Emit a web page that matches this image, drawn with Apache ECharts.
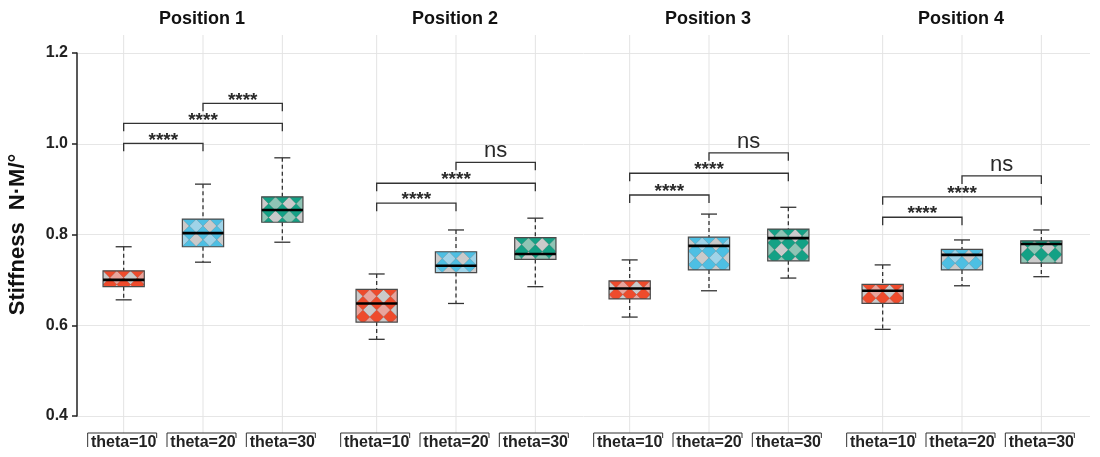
<!DOCTYPE html>
<html>
<head>
<meta charset="utf-8">
<title>Stiffness by position and theta</title>
<script src="https://cdn.jsdelivr.net/npm/echarts@6/dist/echarts.min.js"></script>
<style>
  html, body { margin: 0; padding: 0; background: #ffffff; }
  #chart { width: 1100px; height: 457px; }
</style>
</head>
<body>
<div id="chart"></div>
<script>
// ---- data ----
const positions = ['Position 1', 'Position 2', 'Position 3', 'Position 4'];
const thetas = ['theta=10', 'theta=20', 'theta=30'];
const yTicks = [0.4, 0.6, 0.8, 1.0, 1.2];

// each row: [lower whisker, Q1, median, Q3, upper whisker], one row per theta
const position1 = [
  [0.656, 0.685, 0.700, 0.720, 0.773],
  [0.739, 0.773, 0.803, 0.834, 0.911],
  [0.783, 0.827, 0.854, 0.883, 0.969]
];
const position2 = [
  [0.569, 0.607, 0.648, 0.679, 0.713],
  [0.648, 0.716, 0.731, 0.762, 0.810],
  [0.685, 0.745, 0.757, 0.793, 0.836]
];
const position3 = [
  [0.618, 0.658, 0.681, 0.698, 0.744],
  [0.676, 0.722, 0.775, 0.794, 0.845],
  [0.704, 0.742, 0.792, 0.812, 0.860]
];
const position4 = [
  [0.591, 0.648, 0.676, 0.690, 0.733],
  [0.687, 0.722, 0.755, 0.767, 0.788],
  [0.707, 0.737, 0.779, 0.786, 0.810]
];

// pairwise comparisons (theta index pairs) and the height of each bracket
const comparisons = [[0, 1], [0, 2], [1, 2]];
const bracketLevels1 = [1.001, 1.045, 1.089];
const bracketLevels2 = [0.869, 0.913, 0.959];
const bracketLevels3 = [0.887, 0.935, 0.980];
const bracketLevels4 = [0.838, 0.883, 0.929];
const significance1 = ['****', '****', '****'];
const significance2 = ['****', '****', 'ns'];
const significance3 = ['****', '****', 'ns'];
const significance4 = ['****', '****', 'ns'];

// ---- styling ----
const boxColors = [
  { dark: '#ee4b2c', light: '#e9a49c', gray: '#cacaca' },
  { dark: '#4dbfe3', light: '#9fd3e8', gray: '#cacaca' },
  { dark: '#14a185', light: '#8fc5b5', gray: '#cacaca' }
];
const FONT = '"Liberation Sans", Arial, sans-serif';
const panelCenters = [203, 456, 709, 962];
const panelWidth = 238;
const gridTop = 53;
const gridBottom = 41;

const allBoxes = [position1, position2, position3, position4];
const allLevels = [bracketLevels1, bracketLevels2, bracketLevels3, bracketLevels4];
const allSig = [significance1, significance2, significance3, significance4];

function diamond(cx, cy, w, h, fill) {
  return {
    type: 'polygon',
    shape: { points: [[cx, cy - h / 2], [cx + w / 2, cy], [cx, cy + h / 2], [cx - w / 2, cy]] },
    style: { fill: fill, stroke: 'rgba(90,90,90,0.35)', lineWidth: 0.5 }
  };
}

function renderBox(params, api) {
  const i = api.value(0);
  const lo = api.coord([i, api.value(1)]);
  const q1 = api.coord([i, api.value(2)]);
  const md = api.coord([i, api.value(3)]);
  const q3 = api.coord([i, api.value(4)]);
  const hi = api.coord([i, api.value(5)]);
  const band = api.size([1, 0])[0];
  const bw = band * 0.52;
  const cx = lo[0];
  const x0 = cx - bw / 2;
  const y0 = q3[1];
  const h = q1[1] - q3[1];
  const c = boxColors[i];
  const W = bw / 3, H = W;
  const cap = 8;

  const cells = [{ type: 'rect', shape: { x: x0, y: y0, width: bw, height: h }, style: { fill: c.light } }];
  const rows = Math.ceil(h / H) + 1;
  for (let j = 0; j <= rows; j++) {
    for (let k = 0; k <= 3; k++) {
      cells.push(diamond(x0 + k * W, y0 + H / 2 + j * H, W, H, (k + j) % 2 === 0 ? c.gray : c.light));
    }
    for (let k = 0; k < 3; k++) {
      cells.push(diamond(x0 + W / 2 + k * W, y0 + j * H, W, H, c.dark));
    }
  }

  const whisker = { stroke: '#333', lineWidth: 1.3, lineDash: [4, 3] };
  const solid = { stroke: '#333', lineWidth: 1.3 };
  return {
    type: 'group',
    children: [
      { type: 'line', shape: { x1: cx, y1: hi[1], x2: cx, y2: q3[1] }, style: whisker },
      { type: 'line', shape: { x1: cx, y1: q1[1], x2: cx, y2: lo[1] }, style: whisker },
      { type: 'line', shape: { x1: cx - cap, y1: hi[1], x2: cx + cap, y2: hi[1] }, style: solid },
      { type: 'line', shape: { x1: cx - cap, y1: lo[1], x2: cx + cap, y2: lo[1] }, style: solid },
      {
        type: 'group',
        children: cells,
        clipPath: { type: 'rect', shape: { x: x0, y: y0, width: bw, height: h } }
      },
      { type: 'rect', shape: { x: x0, y: y0, width: bw, height: h }, style: { fill: null, stroke: '#4a4a4a', lineWidth: 1.2 } },
      { type: 'line', shape: { x1: x0, y1: md[1], x2: x0 + bw, y2: md[1] }, style: { stroke: '#000', lineWidth: 2.6 } }
    ]
  };
}

function renderFrame(params, api) {
  const i = api.value(0);
  const top = api.coord([i, 1.2]);
  const bot = api.coord([i, 0.4]);
  const cx = top[0];
  const by = bot[1] + 17;
  return {
    type: 'group',
    children: [
      { type: 'line', shape: { x1: cx, y1: top[1] - 18, x2: cx, y2: by }, style: { stroke: '#e3e3e3', lineWidth: 1 } },
      {
        type: 'polyline',
        shape: { points: [[cx - 36, by + 14], [cx - 36, by], [cx + 33, by], [cx + 33, by + 5]] },
        style: { stroke: '#333', fill: null, lineWidth: 1 }
      }
    ]
  };
}

function makeBracketRenderer(labels) {
  return function (params, api) {
    const a = api.coord([api.value(0), api.value(2)]);
    const b = api.coord([api.value(1), api.value(2)]);
    const leg = 8;
    const text = labels[params.dataIndex];
    const isNs = text === 'ns';
    return {
      type: 'group',
      children: [
        {
          type: 'polyline',
          shape: { points: [[a[0], a[1] + leg], [a[0], a[1]], [b[0], b[1]], [b[0], b[1] + leg]] },
          style: { stroke: '#333', fill: null, lineWidth: 1.3 }
        },
        {
          type: 'text',
          style: {
            text: text,
            x: (a[0] + b[0]) / 2,
            y: isNs ? a[1] - 11 : a[1] - 3,
            align: 'center',
            verticalAlign: 'middle',
            fontFamily: FONT,
            fontSize: isNs ? 22 : 19,
            fontWeight: isNs ? 'normal' : 'bold',
            fill: '#2a2a2a'
          }
        }
      ]
    };
  };
}

// ---- option ----
const grids = [{ left: 77, right: 10, top: gridTop, bottom: gridBottom, containLabel: false, outerBoundsMode: 'none' }];
const xAxes = [{ type: 'value', gridIndex: 0, show: false, min: 0, max: 1 }];
const yAxes = [{
  type: 'value',
  gridIndex: 0,
  min: yTicks[0],
  max: yTicks[yTicks.length - 1],
  interval: 0.2,
  name: 'Stiffness  N·M/°',
  nameLocation: 'middle',
  nameGap: 48,
  nameTextStyle: { fontFamily: FONT, fontSize: 22, fontWeight: 'bold', color: '#111' },
  axisLine: { show: true, lineStyle: { color: '#222', width: 1.5 } },
  axisTick: { show: true, length: 5, lineStyle: { color: '#222', width: 1.5 } },
  axisLabel: {
    margin: 9,
    fontFamily: FONT,
    fontSize: 16,
    fontWeight: 'bold',
    color: '#222',
    formatter: v => v.toFixed(1)
  },
  splitLine: { show: true, lineStyle: { color: '#e6e6e6', width: 1 } }
}];
const titles = [];
const series = [];

positions.forEach((name, p) => {
  const g = p + 1;
  grids.push({
    left: panelCenters[p] - panelWidth / 2,
    width: panelWidth,
    top: gridTop,
    bottom: gridBottom,
    containLabel: false,
    outerBoundsMode: 'none'
  });
  xAxes.push({
    type: 'category',
    gridIndex: g,
    data: thetas,
    boundaryGap: true,
    axisLine: { show: false },
    axisTick: { show: false },
    splitLine: { show: false },
    axisLabel: {
      interval: 0,
      margin: 19,
      fontFamily: FONT,
      fontSize: 16,
      fontWeight: 'bold',
      color: '#222'
    }
  });
  yAxes.push({
    type: 'value',
    gridIndex: g,
    min: yTicks[0],
    max: yTicks[yTicks.length - 1],
    show: false,
    splitLine: { show: false }
  });
  titles.push({
    text: name,
    left: panelCenters[p] - 1,
    top: 10,
    padding: 0,
    textAlign: 'center',
    textStyle: { fontFamily: FONT, fontSize: 18, fontWeight: 'bold', color: '#111' }
  });

  series.push({
    type: 'custom',
    name: name + ' frame',
    xAxisIndex: g,
    yAxisIndex: g,
    z: 1,
    silent: true,
    renderItem: renderFrame,
    encode: { x: 0, y: 1 },
    data: thetas.map((t, i) => [i, 0.4])
  });
  series.push({
    type: 'custom',
    name: name,
    xAxisIndex: g,
    yAxisIndex: g,
    z: 3,
    renderItem: renderBox,
    encode: { x: 0, y: [1, 2, 3, 4, 5] },
    data: allBoxes[p].map((row, i) => [i].concat(row))
  });
  series.push({
    type: 'custom',
    name: name + ' comparisons',
    xAxisIndex: g,
    yAxisIndex: g,
    z: 3,
    silent: true,
    renderItem: makeBracketRenderer(allSig[p]),
    encode: { x: [0, 1], y: 2 },
    data: comparisons.map((c, k) => [c[0], c[1], allLevels[p][k]])
  });
});

const chart = echarts.init(document.getElementById('chart'), null, { renderer: 'canvas' });
chart.setOption({
  animation: false,
  backgroundColor: '#ffffff',
  title: titles,
  grid: grids,
  xAxis: xAxes,
  yAxis: yAxes,
  series: series
});
</script>
</body>
</html>
